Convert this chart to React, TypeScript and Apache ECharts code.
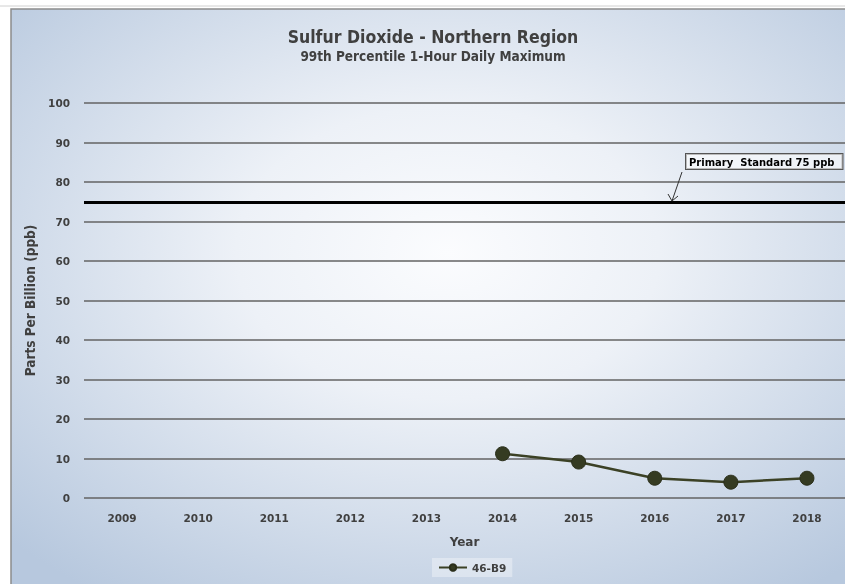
import React, { useEffect, useRef } from "react";
import * as echarts from "echarts";

const years = ["2009", "2010", "2011", "2012", "2013", "2014", "2015", "2016", "2017", "2018"];
const values: (number | null)[] = [null, null, null, null, null, 11.2, 9.1, 5.0, 4.0, 5.0];
const standardValue = 75;
const seriesName = "46-B9";

export default function App() {
  const ref = useRef<HTMLDivElement>(null);
  useEffect(() => {
    if (!ref.current) return;
    const chart = echarts.init(ref.current, null, { renderer: "svg" });
    const tickFont = { fontFamily: "DejaVu Sans", fontWeight: "bold" as const, fontSize: 10.5, color: "#404040" };
    const condensed = "'DejaVu Sans Condensed', 'DejaVu Sans', sans-serif";
    chart.setOption({
      animation: false,
      title: {
        text: "Sulfur Dioxide - Northern Region",
        subtext: "99th Percentile 1-Hour Daily Maximum",
        left: 428,
        textAlign: "center",
        top: 23,
        itemGap: 3,
        textStyle: { fontFamily: condensed, fontWeight: "bold", fontSize: 17.5, color: "#404040" },
        subtextStyle: { fontFamily: condensed, fontWeight: "bold", fontSize: 13.5, color: "#404040" },
      },
      graphic: [
        {
          type: "rect",
          z: -10,
          silent: true,
          shape: { x: 11, y: 9, width: 840, height: 580 },
          style: {
            fill: {
              type: "radial",
              x: 0.52,
              y: 0.42,
              r: 0.72,
              colorStops: [
                { offset: 0, color: "#fbfcfe" },
                { offset: 0.35, color: "#edf1f7" },
                { offset: 1, color: "#b7c8de" },
              ],
            },
            stroke: "#8c8c8c",
            lineWidth: 1.5,
          },
        },
        {
          type: "line",
          silent: true,
          shape: { x1: 0, y1: 6, x2: 845, y2: 6 },
          style: { stroke: "#d0d0d0", lineWidth: 1 },
        },
        {
          type: "text",
          x: 686,
          y: 154,
          z: 10,
          style: {
            text: "Primary  Standard 75 ppb",
            fontFamily: "DejaVu Sans",
            fontWeight: "bold",
            fontSize: 10,
            fill: "#000000",
            backgroundColor: "rgba(255,255,255,0.6)",
            borderColor: "#555555",
            borderWidth: 1,
            padding: [3, 8, 2, 3],
          },
        },
        {
          type: "line",
          z: 10,
          shape: { x1: 682, y1: 172, x2: 672, y2: 201 },
          style: { stroke: "#333333", lineWidth: 1 },
        },
        {
          type: "polyline",
          z: 10,
          shape: { points: [[668, 194], [672, 201], [678, 196]] },
          style: { stroke: "#333333", lineWidth: 1, fill: "none" },
        },
      ],
      grid: { left: 84, right: -2, top: 103, bottom: 86, containLabel: false },
      legend: {
        bottom: 7,
        left: 432,
        itemWidth: 28,
        itemHeight: 8,
        backgroundColor: "rgba(255,255,255,0.35)",
        padding: [4, 6],
        data: [seriesName],
        textStyle: { fontFamily: "DejaVu Sans", fontWeight: "bold", fontSize: 10.5, color: "#404040" },
      },
      xAxis: {
        type: "category",
        data: years,
        boundaryGap: true,
        name: "Year",
        nameLocation: "middle",
        nameGap: 38,
        nameTextStyle: { fontFamily: "DejaVu Sans", fontWeight: "bold", fontSize: 12, color: "#404040" },
        axisLine: { show: false },
        axisTick: { show: false },
        axisLabel: { ...tickFont, margin: 14 },
        splitLine: { show: false },
      },
      yAxis: {
        type: "value",
        min: 0,
        max: 100,
        interval: 10,
        name: "Parts Per Billion (ppb)",
        nameLocation: "middle",
        nameGap: 44,
        nameTextStyle: { fontFamily: condensed, fontWeight: "bold", fontSize: 13.5, color: "#404040" },
        axisLine: { show: false },
        axisTick: { show: false },
        axisLabel: { ...tickFont, margin: 14 },
        splitLine: {
          show: true,
          lineStyle: { color: "#636363", width: 1.5, type: "solid" },
        },
      },
      series: [
        {
          name: seriesName,
          type: "line",
          data: values,
          symbol: "circle",
          symbolSize: 14,
          connectNulls: false,
          lineStyle: { color: "#3b4125", width: 2.5 },
          itemStyle: { color: "#353b22", borderColor: "#2a2e1a", borderWidth: 1 },
          markLine: {
            silent: true,
            symbol: "none",
            label: { show: false },
            lineStyle: { color: "#000000", width: 3, type: "solid" },
            data: [{ yAxis: standardValue }],
          },
        },
      ],
    });
    return () => chart.dispose();
  }, []);
  return <div ref={ref} style={{ position: "fixed", left: 0, top: 0, width: 845, height: 584 }} />;
}
